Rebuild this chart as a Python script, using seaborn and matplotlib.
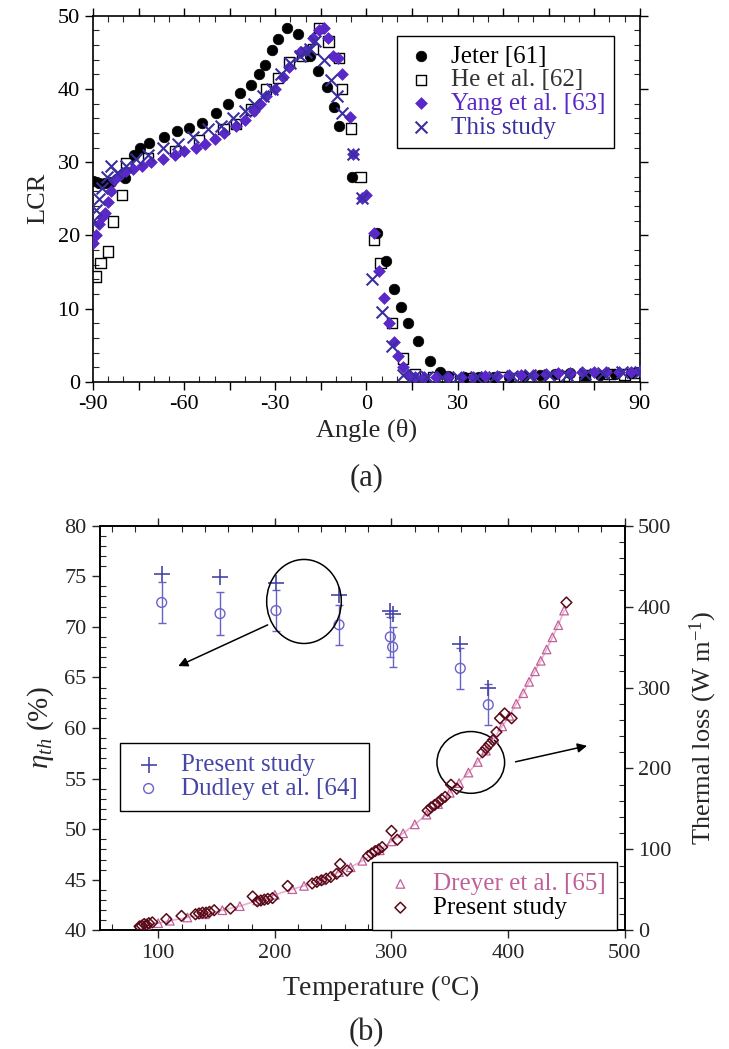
import numpy as np
import pandas as pd
import matplotlib
matplotlib.use("Agg")
import matplotlib.pyplot as plt
import seaborn as sns
from matplotlib.patches import Ellipse
from matplotlib.ticker import MultipleLocator, FuncFormatter

sns.set_style("ticks")
plt.rcParams['font.family'] = ['Liberation Serif', 'DejaVu Serif']
plt.rcParams['mathtext.fontset'] = 'custom'
plt.rcParams['mathtext.rm'] = 'Liberation Serif'
plt.rcParams['mathtext.it'] = 'Liberation Serif:italic'
plt.rcParams['mathtext.bf'] = 'Liberation Serif:bold'

# ---------------- (a) LCR vs angle ----------------
jeter_theta = [-90, -88, -86, -84, -79.5, -76.5, -74.5, -71.5, -66.5, -62.5, -58.5, -54, -49.5,
               -45.5, -41.5, -38, -35.5, -33.3, -31, -29, -26, -22.5, -18.5, -16, -13, -10.7,
               -9, -4.6, 3.5, 6.5, 9, 11.5, 13.8, 17, 21, 24.3, 27, 32, 37, 42, 47, 52, 57, 62,
               67, 72, 77, 82, 87]
jeter_lcr = [27.4, 27.2, 27.1, 27.3, 27.8, 31.0, 31.9, 32.6, 33.5, 34.2, 34.6, 35.4, 36.7,
             38.0, 39.4, 40.5, 42.1, 43.3, 45.3, 46.8, 48.3, 47.5, 44.5, 42.4, 40.3, 37.6,
             35.0, 28.0, 20.3, 16.5, 12.7, 10.2, 8.1, 5.6, 2.8, 1.4, 0.8, 0.6, 0.6, 0.7, 0.7,
             0.8, 0.9, 1.1, 1.2, 1.0, 1.0, 1.1, 1.2]

he_theta = [-89, -87.5, -85, -83.5, -80.5, -79, -72, -63, -55, -47, -43, -38, -33, -29, -25.5,
            -21, -17.5, -15.5, -12.5, -9, -8, -5, -1.9, 2.5, 4.6, 8.5, 12.1, 16, 22, 27.5, 35,
            45, 50, 57, 65, 72, 80, 85, 88]
he_lcr = [14.4, 16.2, 17.8, 21.9, 25.5, 29.9, 30.5, 31.5, 33.0, 34.5, 35.2, 37.2, 40.0, 41.5,
          43.7, 44.5, 45.5, 48.3, 46.5, 44.2, 40.0, 34.6, 28.0, 19.4, 16.2, 8.0, 3.2, 1.0, 0.6,
          0.4, 0.5, 0.6, 0.5, 0.5, 0.8, 0.9, 1.1, 1.0, 1.2]

yang_theta = [-90, -89, -88, -87, -86, -85, -84, -83, -81, -79, -77, -74, -71, -67, -63, -60,
              -56, -53, -50, -47, -43, -40, -37, -35, -33, -30, -27.5, -25.5, -22, -20, -17.5,
              -15.5, -14, -12.5, -11, -9.5, -8, -5.5, -4.5, -1.3, 0, 2.5, 4.3, 5.9, 7.5, 9,
              10.5, 12, 14, 16, 19, 23, 27, 31, 35, 39, 43, 47, 51, 55, 59, 63, 67, 71, 75,
              79, 83, 87, 90]
yang_lcr = [19.0, 20.0, 21.5, 22.5, 23.0, 24.5, 26.0, 27.5, 28.3, 28.8, 29.0, 29.5, 30.0,
            30.5, 31.0, 31.5, 32.0, 32.5, 33.2, 34.0, 35.0, 35.8, 37.0, 38.0, 39.0, 40.0,
            41.6, 43.0, 45.0, 45.3, 47.0, 48.0, 48.3, 47.0, 44.5, 44.2, 42.0, 36.2, 31.1,
            25.1, 25.5, 20.3, 15.1, 11.5, 8.0, 5.5, 3.5, 2.0, 1.0, 0.7, 0.6, 0.6, 0.7, 0.6,
            0.7, 0.8, 0.8, 0.9, 1.0, 1.0, 1.1, 1.2, 1.2, 1.3, 1.3, 1.3, 1.4, 1.4, 1.5]

this_theta = [-90, -89, -88, -87, -85.5, -84, -82, -79, -76, -72, -67, -62, -57, -52, -48,
              -44, -40, -37, -34, -31, -28, -25, -22, -20, -18.5, -16.8, -14, -11.8, -9.6,
              -7.9, -4.5, -1.3, 2, 5, 8.5, 12, 16, 20, 25, 30, 36, 42, 48, 54, 60, 66, 72,
              78, 84, 90]
this_lcr = [22.0, 23.5, 25.0, 26.5, 28.0, 29.5, 28.5, 29.5, 30.5, 31.0, 32.0, 32.5, 33.5,
            34.5, 35.0, 36.0, 37.0, 38.0, 39.0, 40.0, 42.0, 43.5, 44.5, 45.1, 45.5, 46.5,
            44.0, 41.2, 39.0, 36.7, 31.1, 25.1, 14.0, 9.6, 4.9, 0.9, 0.8, 0.7, 0.7, 0.6, 0.7,
            0.7, 0.8, 0.9, 1.0, 1.0, 1.1, 1.2, 1.3, 1.3]

# ---------------- (b) efficiency / thermal loss ----------------
temp_plus = [103, 153, 201, 255, 299, 301, 359, 383]
eta_plus = [75.2, 74.9, 74.3, 73.1, 71.6, 71.3, 68.3, 64.0]
temp_dudley = [103, 153, 201, 255, 299, 301, 359, 383]
eta_dudley = [72.4, 71.3, 71.6, 70.2, 69.0, 68.0, 65.9, 62.3]
err_dudley = [2.0, 2.1, 2.0, 2.0, 2.0, 2.0, 2.0, 2.0]

dreyer_T = [90, 100, 110, 125, 140, 155, 170, 185, 200, 215, 225, 240, 255, 265, 275, 290, 300,
            310, 320, 330, 340, 350, 358, 366, 374, 381, 388, 395, 401, 407, 413, 418, 423,
            428, 433, 438, 443, 448]
dreyer_TL = [7, 9, 12, 16, 20, 25, 30, 37, 44, 51, 55, 62, 72, 78, 86, 99, 110, 120, 131, 143,
             156, 170, 182, 195, 208, 222, 237, 252, 265, 280, 293, 307, 320, 333, 347, 362,
             377, 395]

present_T = [84, 86, 88, 90, 92, 95, 107, 120, 132, 135, 138, 141, 144, 148, 162, 181, 185,
             188, 191, 194, 198, 211, 232, 236, 240, 244, 248, 253, 256, 262, 280, 283, 286,
             289, 292, 300, 305, 331, 334, 337, 340, 343, 346, 351, 356, 378, 381, 384, 387,
             390, 393, 397, 403, 450]
present_TL = [5, 6, 8, 7, 9, 10, 14, 18, 20, 21, 22, 22, 23, 25, 27, 42, 36, 37, 38, 39, 40,
              55, 58, 60, 62, 64, 66, 70, 82, 74, 92, 95, 98, 100, 103, 123, 112, 148, 152,
              155, 158, 162, 165, 180, 175, 220, 225, 230, 235, 245, 262, 268, 262, 405]

c_yang = '#5a28c8'
c_this = '#3a2f9e'
c_plus = '#4646a6'
c_dud = '#6a62c6'
c_dreyer = '#c0609a'
c_present = '#5a0a16'

fig = plt.figure(figsize=(7.29, 10.49), dpi=100)
ax1 = fig.add_axes([0.1276, 0.636, 0.750, 0.349])
ax = fig.add_axes([0.137, 0.113, 0.720, 0.386])

# ---- top panel
sns.scatterplot(x=jeter_theta, y=jeter_lcr, ax=ax1, marker='o', s=58, color='black',
                edgecolor='black', linewidth=0.5, label='Jeter [61]', legend=False, zorder=3)
sns.scatterplot(x=he_theta, y=he_lcr, ax=ax1, marker='s', s=55, color='black',
                facecolor='none', edgecolor='black', linewidth=1.0, label='He et al. [62]',
                legend=False, zorder=4)
sns.scatterplot(x=yang_theta, y=yang_lcr, ax=ax1, marker='D', s=36, color=c_yang,
                edgecolor=c_yang, linewidth=0.5, label='Yang et al. [63]', legend=False, zorder=5)
sns.scatterplot(x=this_theta, y=this_lcr, ax=ax1, marker='x', s=72, color=c_this,
                linewidth=1.5, label='This study', legend=False, zorder=6)

ax1.set_xlim(-90, 90)
ax1.set_ylim(0, 50)
ax1.xaxis.set_major_locator(MultipleLocator(15))
ax1.xaxis.set_minor_locator(MultipleLocator(5))
ax1.xaxis.set_major_formatter(FuncFormatter(lambda v, p: f"{int(round(v))}" if round(v) % 30 == 0 else ""))
ax1.yaxis.set_major_locator(MultipleLocator(10))
ax1.yaxis.set_minor_locator(MultipleLocator(2))
ax1.set_xlabel("Angle (θ)", fontsize=19, labelpad=3)
ax1.set_ylabel("LCR", fontsize=19, labelpad=6)

leg1 = ax1.legend(loc='upper right', bbox_to_anchor=(0.976, 0.978), fontsize=18,
                  frameon=True, fancybox=False, edgecolor='black', framealpha=1,
                  handletextpad=0.6, labelspacing=0.05, borderpad=0.35, handlelength=1.2,
                  labelcolor=['black', '#333333', c_yang, c_this])
leg1.get_frame().set_linewidth(1.0)

# ---- bottom panel
ax.errorbar(temp_dudley, eta_dudley, yerr=err_dudley, fmt='none', ecolor=c_dud,
            elinewidth=1.0, capsize=3, capthick=1.0, zorder=2)
sns.scatterplot(x=temp_plus, y=eta_plus, ax=ax, marker='+', s=130, color=c_plus,
                linewidth=1.2, label='Present study', legend=False, zorder=4)
sns.scatterplot(x=temp_dudley, y=eta_dudley, ax=ax, marker='o', s=50, color=c_dud,
                facecolor='none', edgecolor=c_dud, linewidth=1.0, label='Dudley et al. [64]',
                legend=False, zorder=3)

ax.set_xlim(50, 500)
ax.set_ylim(40, 80)
ax.xaxis.set_major_locator(MultipleLocator(100))
ax.xaxis.set_minor_locator(MultipleLocator(20))
ax.yaxis.set_major_locator(MultipleLocator(5))
ax.yaxis.set_minor_locator(MultipleLocator(1))
ax.set_xlabel("Temperature ($^{\\mathrm{o}}$C)", fontsize=20)
ax.xaxis.set_label_coords(0.535, -0.105)
ax.set_ylabel("$\\eta_{th}$ (%)", fontsize=21, labelpad=6)

ax2 = ax.twinx()
sns.lineplot(x=dreyer_T, y=dreyer_TL, ax=ax2, color='#eab0cc', linewidth=1.2,
             estimator=None, sort=False, legend=False, zorder=1)
sns.scatterplot(x=dreyer_T, y=dreyer_TL, ax=ax2, marker='^', s=38, color=c_dreyer,
                facecolor='none', edgecolor=c_dreyer, linewidth=0.9, label='Dreyer et al. [65]',
                legend=False, zorder=3)
sns.scatterplot(x=present_T, y=present_TL, ax=ax2, marker='D', s=30, color=c_present,
                facecolor='none', edgecolor=c_present, linewidth=1.1, label='Present study',
                legend=False, zorder=4)
ax2.set_ylim(0, 500)
ax2.yaxis.set_major_locator(MultipleLocator(100))
ax2.yaxis.set_minor_locator(MultipleLocator(20))
ax2.set_ylabel("Thermal loss (W m$^{-1}$)", fontsize=19, labelpad=12)

# annotations
e1 = Ellipse((225, 72.5), width=64, height=8.3, fill=False, edgecolor='black', linewidth=1.1, zorder=5)
ax.add_patch(e1)
ax.annotate("", xy=(115, 66.0), xytext=(196, 70.3),
            arrowprops=dict(arrowstyle='-|>', color='black', lw=1.1, mutation_scale=14), zorder=5)
e2 = Ellipse((368, 56.6), width=58, height=6.1, fill=False, edgecolor='black', linewidth=1.1, zorder=5)
ax.add_patch(e2)
ax.annotate("", xy=(470, 58.3), xytext=(404, 56.6),
            arrowprops=dict(arrowstyle='-|>', color='black', lw=1.1, mutation_scale=14), zorder=5)

h_ax = [c for c in ax.collections if c.get_label() in ('Present study', 'Dudley et al. [64]')]
leg2 = ax.legend(handles=h_ax, loc='upper left', bbox_to_anchor=(0.038, 0.464), fontsize=18,
                 frameon=True, fancybox=False, edgecolor='black', framealpha=1,
                 handletextpad=0.6, labelspacing=0.05, borderpad=0.45, handlelength=1.4,
                 labelcolor=[c_plus, c_plus], borderaxespad=0)
leg2.get_frame().set_linewidth(1.0)
h_ax2 = [c for c in ax2.collections if c.get_label() in ('Dreyer et al. [65]', 'Present study')]
leg3 = ax2.legend(handles=h_ax2, loc='lower right', bbox_to_anchor=(0.985, 0.0), fontsize=18,
                  frameon=True, fancybox=False, edgecolor='black', framealpha=1,
                  handletextpad=0.6, labelspacing=0.05, borderpad=0.45, handlelength=1.4,
                  labelcolor=[c_dreyer, 'black'], borderaxespad=0)
leg3.get_frame().set_linewidth(1.0)

# tick styling
ax1.tick_params(which='major', direction='out', length=6, width=1.0, top=True, right=True,
                labelsize=16, colors='black')
ax1.tick_params(which='minor', direction='in', length=4, width=0.8, top=True, right=True)
ax.tick_params(axis='x', which='major', direction='out', length=6, width=1.0, top=True, labelsize=16)
ax.tick_params(axis='x', which='minor', direction='in', length=4, width=0.8, top=True)
ax.tick_params(axis='y', which='major', direction='out', length=6, width=1.0, right=False, labelsize=16)
ax.tick_params(axis='y', which='minor', direction='in', length=4, width=0.8, right=False)
ax2.tick_params(axis='y', which='major', direction='out', length=6, width=1.0, labelsize=16)
ax2.tick_params(axis='y', which='minor', direction='in', length=4, width=0.8)

for a in (ax1, ax, ax2):
    for s in a.spines.values():
        s.set_linewidth(1.2)
        s.set_color('black')

fig.text(0.503, 0.545, "(a)", fontsize=22, ha='center', va='center')
fig.text(0.503, 0.016, "(b)", fontsize=22, ha='center', va='center')

fig.savefig("out.png", dpi=100, facecolor='white')
